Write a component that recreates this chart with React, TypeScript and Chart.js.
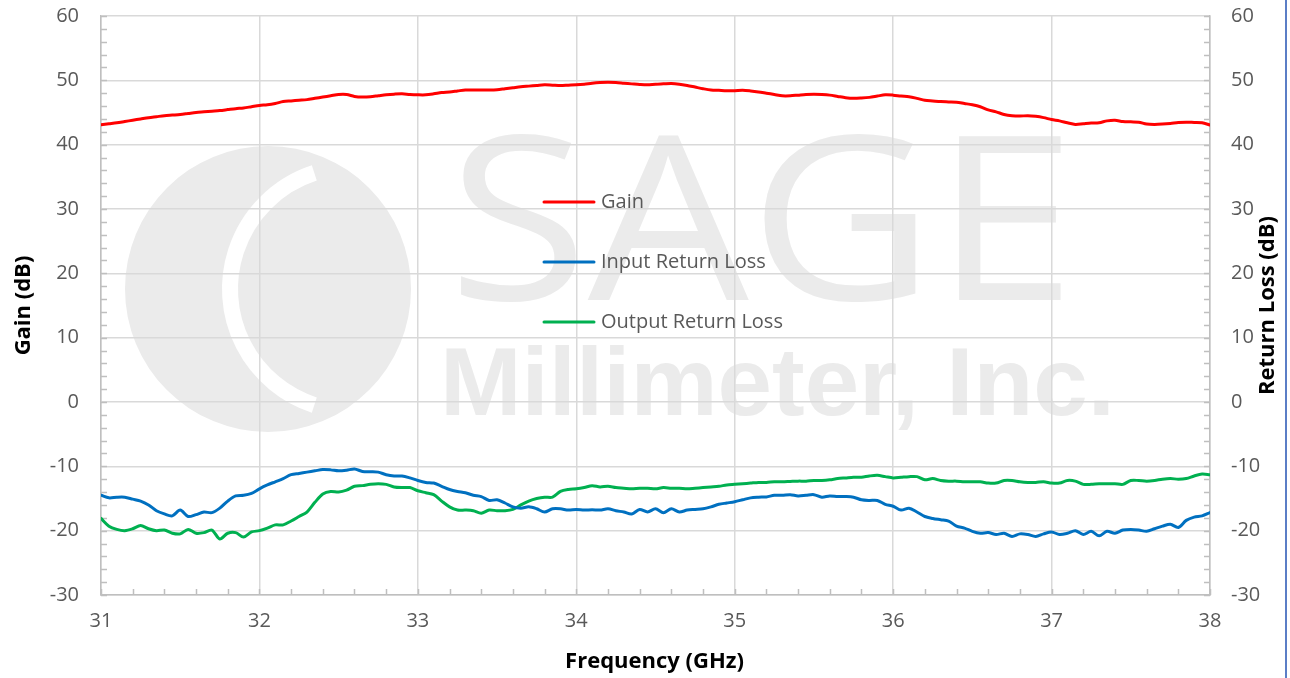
import React, { useEffect, useRef } from "react";
import Chart from "chart.js/auto";

const FREQ = [
  31.0, 31.05, 31.1, 31.15, 31.2, 31.25, 31.3, 31.35, 31.4, 31.45,
  31.5, 31.55, 31.6, 31.65, 31.7, 31.75, 31.8, 31.85, 31.9, 31.95,
  32.0, 32.05, 32.1, 32.15, 32.2, 32.25, 32.3, 32.35, 32.4, 32.45,
  32.5, 32.55, 32.6, 32.65, 32.7, 32.75, 32.8, 32.85, 32.9, 32.95,
  33.0, 33.05, 33.1, 33.15, 33.2, 33.25, 33.3, 33.35, 33.4, 33.45,
  33.5, 33.55, 33.6, 33.65, 33.7, 33.75, 33.8, 33.85, 33.9, 33.95,
  34.0, 34.05, 34.1, 34.15, 34.2, 34.25, 34.3, 34.35, 34.4, 34.45,
  34.5, 34.55, 34.6, 34.65, 34.7, 34.75, 34.8, 34.85, 34.9, 34.95,
  35.0, 35.05, 35.1, 35.15, 35.2, 35.25, 35.3, 35.35, 35.4, 35.45,
  35.5, 35.55, 35.6, 35.65, 35.7, 35.75, 35.8, 35.85, 35.9, 35.95,
  36.0, 36.05, 36.1, 36.15, 36.2, 36.25, 36.3, 36.35, 36.4, 36.45,
  36.5, 36.55, 36.6, 36.65, 36.7, 36.75, 36.8, 36.85, 36.9, 36.95,
  37.0, 37.05, 37.1, 37.15, 37.2, 37.25, 37.3, 37.35, 37.4, 37.45,
  37.5, 37.55, 37.6, 37.65, 37.7, 37.75, 37.8, 37.85, 37.9, 37.95,
  38.0,
];

const GAIN = [
  43.1, 43.25, 43.4, 43.6, 43.8, 44.0, 44.2, 44.35, 44.5, 44.6,
  44.7, 44.85, 45.0, 45.1, 45.2, 45.3, 45.45, 45.6, 45.7, 45.9,
  46.1, 46.2, 46.4, 46.7, 46.8, 46.9, 47.0, 47.2, 47.4, 47.6,
  47.8, 47.8, 47.5, 47.4, 47.45, 47.6, 47.75, 47.85, 47.9, 47.8,
  47.75, 47.75, 47.9, 48.1, 48.2, 48.35, 48.5, 48.5, 48.5, 48.5,
  48.55, 48.7, 48.85, 49.0, 49.1, 49.2, 49.3, 49.25, 49.2, 49.25,
  49.3, 49.4, 49.55, 49.65, 49.7, 49.65, 49.55, 49.45, 49.35, 49.3,
  49.4, 49.45, 49.5, 49.4, 49.2, 48.95, 48.7, 48.5, 48.45, 48.4,
  48.4, 48.45, 48.35, 48.2, 48.0, 47.8, 47.6, 47.6, 47.7, 47.8,
  47.85, 47.8, 47.7, 47.5, 47.3, 47.2, 47.25, 47.35, 47.55, 47.75,
  47.7, 47.55, 47.45, 47.2, 46.9, 46.8, 46.7, 46.65, 46.6, 46.4,
  46.2, 45.9, 45.4, 45.1, 44.7, 44.5, 44.45, 44.5, 44.4, 44.2,
  43.9, 43.7, 43.4, 43.15, 43.25, 43.35, 43.4, 43.7, 43.8, 43.6,
  43.55, 43.5, 43.2, 43.15, 43.2, 43.3, 43.45, 43.5, 43.45, 43.4,
  43.05,
];

const INPUT_RL = [
  -14.5, -14.9, -14.8, -14.8, -15.1, -15.4, -16.0, -16.9, -17.4, -17.7,
  -16.8, -17.8, -17.5, -17.1, -17.2, -16.5, -15.4, -14.6, -14.5, -14.2,
  -13.5, -12.9, -12.4, -11.9, -11.3, -11.1, -10.9, -10.7, -10.5, -10.55,
  -10.7, -10.6, -10.4, -10.8, -10.85, -10.9, -11.3, -11.5, -11.5, -11.8,
  -12.2, -12.5, -12.6, -13.1, -13.6, -13.9, -14.1, -14.5, -14.7, -15.3,
  -15.2, -15.7, -16.3, -16.5, -16.3, -16.6, -17.1, -16.6, -16.6, -16.8,
  -16.7, -16.8, -16.75, -16.8, -16.6, -16.9, -17.1, -17.4, -16.7, -17.1,
  -16.6, -17.2, -16.6, -17.1, -16.8, -16.7, -16.6, -16.3, -15.9, -15.7,
  -15.5, -15.2, -14.9, -14.8, -14.75, -14.5, -14.5, -14.4, -14.6, -14.5,
  -14.4, -14.8, -14.6, -14.7, -14.7, -14.8, -15.2, -15.3, -15.3, -15.9,
  -16.2, -16.8, -16.5, -17.1, -17.8, -18.1, -18.3, -18.5, -19.3, -19.6,
  -20.1, -20.4, -20.3, -20.6, -20.4, -20.9, -20.5, -20.6, -20.9, -20.5,
  -20.2, -20.6, -20.4, -20.0, -20.6, -20.1, -20.8, -20.1, -20.4, -19.9,
  -19.8, -19.9, -20.1, -19.7, -19.3, -19.0, -19.5, -18.4, -17.9, -17.7,
  -17.2,
];

const OUTPUT_RL = [
  -18.1, -19.3, -19.8, -20.0, -19.7, -19.2, -19.7, -20.0, -19.9, -20.4,
  -20.5, -19.8, -20.4, -20.3, -19.9, -21.3, -20.4, -20.3, -21.0, -20.2,
  -20.0, -19.6, -19.1, -19.1, -18.5, -17.8, -17.1, -15.6, -14.3, -13.9,
  -14.0, -13.7, -13.1, -13.0, -12.8, -12.7, -12.8, -13.2, -13.3, -13.3,
  -13.8, -14.1, -14.4, -15.4, -16.3, -16.8, -16.8, -16.9, -17.3, -16.8,
  -16.9, -16.9, -16.7, -16.0, -15.4, -15.0, -14.8, -14.8, -13.9, -13.6,
  -13.5, -13.3, -13.0, -13.2, -13.1, -13.3, -13.4, -13.5, -13.4, -13.4,
  -13.5, -13.3, -13.4, -13.4, -13.5, -13.4, -13.3, -13.2, -13.1, -12.9,
  -12.8, -12.7, -12.6, -12.5, -12.5, -12.4, -12.4, -12.35, -12.3, -12.3,
  -12.2, -12.2, -12.1, -11.9, -11.8, -11.7, -11.7, -11.5, -11.4, -11.6,
  -11.8, -11.7, -11.6, -11.6, -12.1, -11.9, -12.2, -12.3, -12.3, -12.4,
  -12.4, -12.4, -12.6, -12.6, -12.2, -12.2, -12.4, -12.5, -12.5, -12.4,
  -12.6, -12.6, -12.2, -12.3, -12.8, -12.8, -12.7, -12.7, -12.7, -12.8,
  -12.2, -12.2, -12.3, -12.2, -12.0, -11.9, -12.0, -11.9, -11.5, -11.2,
  -11.3,
];

const SERIES_LABELS = ["Gain", "Input Return Loss", "Output Return Loss"];
const SERIES_COLORS = ["#ff0000", "#0070c0", "#00b050"];
const X_TITLE = "Frequency (GHz)";
const Y_TITLE = "Gain (dB)";
const Y2_TITLE = "Return Loss (dB)";
const WM_BIG = "SAGE";
const WM_SMALL = "Millimeter, Inc.";

const TICK_COLOR = "#595959";
const GRID_COLOR = "#d9d9d9";
const AXIS_COLOR = "#bfbfbf";
const FONT = '"Open Sans", "Liberation Sans", sans-serif';

const watermarkPlugin = {
  id: "watermark",
  beforeDraw(chart: any) {
    const ctx = chart.ctx;
    ctx.save();
    ctx.fillStyle = "#ebebeb";
    ctx.beginPath();
    ctx.arc(268, 289, 143, 0, Math.PI * 2);
    ctx.fill();
    ctx.strokeStyle = "#ffffff";
    ctx.lineWidth = 16;
    ctx.beginPath();
    ctx.arc(352, 289, 122, Math.PI * 0.6, Math.PI * 1.4);
    ctx.stroke();
    ctx.fillStyle = "#ebebeb";
    ctx.textBaseline = "alphabetic";
    ctx.textAlign = "left";
    ctx.font = `400 230px ${FONT}`;
    let w = ctx.measureText(WM_BIG).width;
    ctx.save();
    ctx.translate(448, 300);
    ctx.scale(628 / w, 1);
    ctx.fillText(WM_BIG, 0, 0);
    ctx.restore();
    ctx.font = `bold 97px "Liberation Sans", sans-serif`;
    w = ctx.measureText(WM_SMALL).width;
    ctx.save();
    ctx.translate(440, 415);
    ctx.scale(675 / w, 1);
    ctx.fillText(WM_SMALL, 0, 0);
    ctx.restore();
    ctx.restore();
  },
};

const decorPlugin = {
  id: "decor",
  beforeDatasetsDraw(chart: any) {
    const ctx = chart.ctx;
    const { x, y, y2 } = chart.scales;
    const area = chart.chartArea;
    ctx.save();
    ctx.strokeStyle = AXIS_COLOR;
    ctx.lineWidth = 1.5;
    ctx.beginPath();
    for (let v = -30; v <= 60; v += 2) {
      const py = Math.round(y.getPixelForValue(v)) + 0.5;
      ctx.moveTo(area.left, py);
      ctx.lineTo(area.left + 6, py);
      const py2 = Math.round(y2.getPixelForValue(v)) + 0.5;
      ctx.moveTo(area.right, py2);
      ctx.lineTo(area.right - 6, py2);
    }
    for (let i = 0; i <= 35; i++) {
      const f = 31 + i * 0.2;
      const px = Math.round(x.getPixelForValue(f)) + 0.5;
      ctx.moveTo(px, area.bottom);
      ctx.lineTo(px, area.bottom - 6);
    }
    ctx.stroke();
    ctx.restore();
  },
  afterDraw(chart: any) {
    const ctx = chart.ctx;
    const area = chart.chartArea;
    const midY = (area.top + area.bottom) / 2;
    ctx.save();
    ctx.fillStyle = "#000000";
    ctx.font = `bold 22px ${FONT}`;
    ctx.textAlign = "center";
    ctx.textBaseline = "middle";
    ctx.fillText(X_TITLE, (area.left + area.right) / 2 - 1, 662);
    ctx.save();
    ctx.translate(24, midY);
    ctx.rotate(-Math.PI / 2);
    ctx.fillText(Y_TITLE, 0, 0);
    ctx.restore();
    ctx.save();
    ctx.translate(1268, midY);
    ctx.rotate(-Math.PI / 2);
    ctx.fillText(Y2_TITLE, 0, 0);
    ctx.restore();
    ctx.font = `20px ${FONT}`;
    ctx.textAlign = "left";
    ctx.textBaseline = "middle";
    chart.data.datasets.forEach((ds: any, i: number) => {
      const ly = 202 + i * 60;
      ctx.strokeStyle = ds.borderColor;
      ctx.lineWidth = 3;
      ctx.lineCap = "round";
      ctx.beginPath();
      ctx.moveTo(544, ly);
      ctx.lineTo(594, ly);
      ctx.stroke();
      ctx.fillStyle = TICK_COLOR;
      ctx.fillText(ds.label, 601, ly);
    });
    ctx.restore();
  },
};

export default function App() {
  const ref = useRef<HTMLCanvasElement | null>(null);

  useEffect(() => {
    document.body.style.margin = "0";
    const canvas = ref.current;
    if (!canvas) return;
    const mk = (vals: number[]) => FREQ.map((f, i) => ({ x: f, y: vals[i] }));
    const tickFont = { family: FONT, size: 20 };
    const chart = new Chart(canvas, {
      type: "line",
      data: {
        datasets: [
          { label: SERIES_LABELS[0], data: mk(GAIN), borderColor: SERIES_COLORS[0], yAxisID: "y" },
          { label: SERIES_LABELS[1], data: mk(INPUT_RL), borderColor: SERIES_COLORS[1], yAxisID: "y2" },
          { label: SERIES_LABELS[2], data: mk(OUTPUT_RL), borderColor: SERIES_COLORS[2], yAxisID: "y2" },
        ].map((d) => ({
          ...d,
          borderWidth: 3,
          pointRadius: 0,
          tension: 0.3,
          fill: false,
          borderCapStyle: "round",
          borderJoinStyle: "round",
        })) as any,
      },
      options: {
        responsive: false,
        animation: false,
        devicePixelRatio: 1,
        layout: { padding: { top: 16, left: 0, right: 0, bottom: 0 } },
        plugins: {
          legend: { display: false },
          tooltip: { enabled: false },
        },
        scales: {
          x: {
            type: "linear",
            min: 31,
            max: 38,
            ticks: { stepSize: 1, font: tickFont, color: TICK_COLOR, padding: 14, maxRotation: 0 },
            grid: { color: GRID_COLOR, lineWidth: 1.5, drawTicks: false },
            border: { color: AXIS_COLOR, width: 1.5 },
            afterFit: (s: any) => {
              s.height = 83;
              s.paddingLeft = 0;
              s.paddingRight = 0;
            },
          },
          y: {
            position: "left",
            min: -30,
            max: 60,
            ticks: { stepSize: 10, font: tickFont, color: TICK_COLOR, padding: 22 },
            grid: { color: GRID_COLOR, lineWidth: 1.5, drawTicks: false },
            border: { color: AXIS_COLOR, width: 1.5 },
            afterFit: (s: any) => {
              s.width = 101;
              s.paddingTop = 0;
              s.paddingBottom = 0;
            },
          },
          y2: {
            position: "right",
            min: -30,
            max: 60,
            ticks: { stepSize: 10, font: tickFont, color: TICK_COLOR, padding: 21 },
            grid: { display: false, drawTicks: false },
            border: { color: AXIS_COLOR, width: 1.5 },
            afterFit: (s: any) => {
              s.width = 80;
              s.paddingTop = 0;
              s.paddingBottom = 0;
            },
          },
        },
      } as any,
      plugins: [watermarkPlugin, decorPlugin],
    });
    return () => chart.destroy();
  }, []);

  return (
    <div style={{ position: "relative", width: 1290, height: 678, background: "#ffffff" }}>
      <canvas ref={ref} width={1290} height={678} style={{ display: "block" }} />
      <div
        style={{ position: "absolute", left: 1285, top: 0, width: 2, height: 678, background: "#5b7ec6" }}
      />
    </div>
  );
}
